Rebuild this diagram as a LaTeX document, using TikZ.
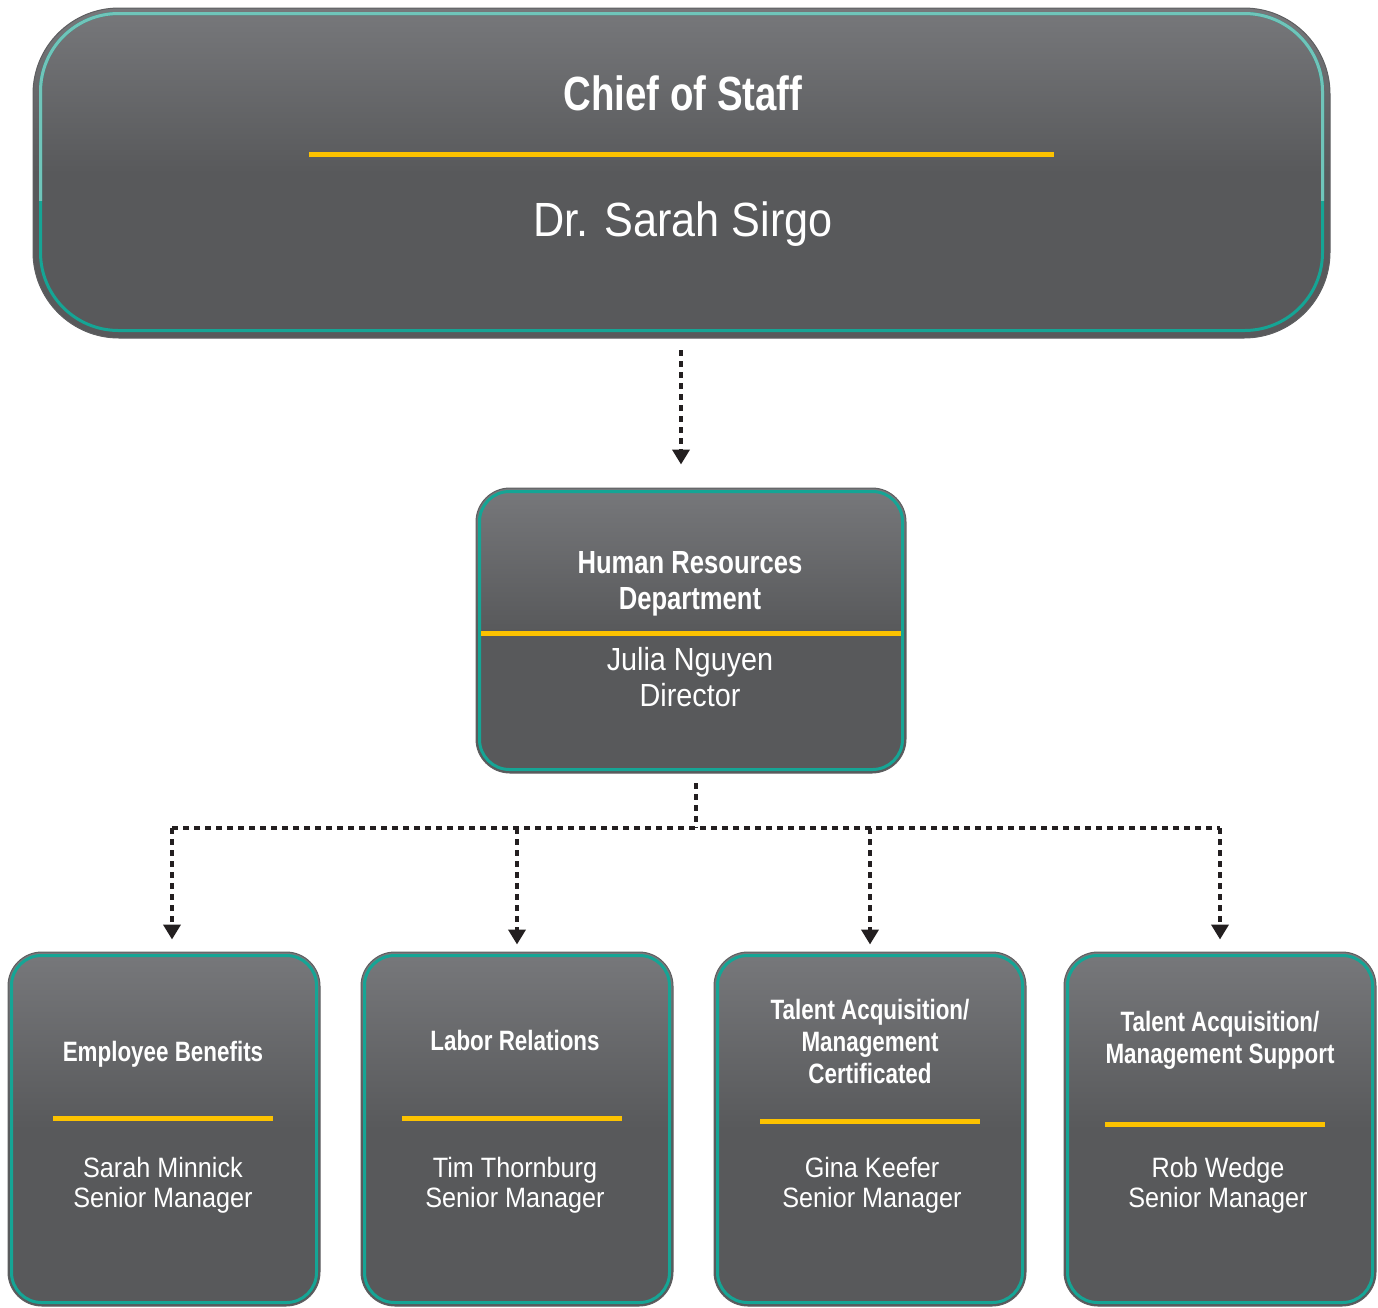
\documentclass[tikz,border=0pt]{standalone}
\usepackage{fontspec}
\setmainfont{Liberation Sans}
\newfontfamily\headfont[FakeStretch=0.8]{Liberation Sans}
\newfontfamily\namefont[FakeStretch=0.9]{Liberation Sans}
\usetikzlibrary{arrows.meta}

\definecolor{cardtop}{HTML}{77787B}
\definecolor{cardbot}{HTML}{58595B}
\definecolor{rimgray}{HTML}{5E5F61}
\definecolor{tealdark}{HTML}{15A595}
\definecolor{teallight}{HTML}{6FC5BA}
\definecolor{rulegold}{HTML}{FCC200}
\definecolor{inkdark}{HTML}{231F20}

\begin{document}
\begin{tikzpicture}[x=1pt,y=-1pt,
  card/.style={draw=rimgray, line width=1pt, inner sep=0pt,
    top color=cardtop, bottom color=cardbot, middle color=cardbot},
  tealline/.style={draw=tealdark, line width=3pt},
  goldrule/.style={draw=rulegold, line width=5pt},
  % multi-line text: the base anchor sits on the baseline of the last line
  headtext/.style={text=white, align=center, inner sep=0pt, anchor=base},
  nametext/.style={text=white, align=center, inner sep=0pt, anchor=base},
  dotline/.style={draw=inkdark, line width=4pt, dash pattern=on 5.5pt off 5.5pt},
  tip/.style={-{Triangle[width=17pt,length=15pt]}}
]
\useasboundingbox (0,0) rectangle (1378,1307);

% ---------- Chief of Staff ----------
\node[card, rounded corners=86pt, minimum width=1297pt, minimum height=330pt] (cos) at (681.5,173) {};
\draw[tealline, rounded corners=78pt] ([shift={(8,6)}]cos.north west) rectangle ([shift={(-8,-8)}]cos.south east);
\begin{scope}
  \clip (0,0) rectangle (1378,200);
  \draw[tealline, draw=teallight, rounded corners=78pt] ([shift={(8,6)}]cos.north west) rectangle ([shift={(-8,-8)}]cos.south east);
\end{scope}
\node[headtext, font=\headfont\bfseries\fontsize{48}{52}\selectfont] (costitle) at (683,110) {Chief of Staff};
\coordinate (cosruleL) at (309,154);
\coordinate (cosruleR) at (1054,154);
\draw[goldrule] (cosruleL) -- (cosruleR);
\node[nametext, font=\namefont\fontsize{48}{52}\selectfont] (cosname) at (683,236) {Dr. Sarah Sirgo};

% ---------- Human Resources ----------
\node[card, rounded corners=34pt, minimum width=430pt, minimum height=285pt] (hr) at (691,630.5) {};
\draw[tealline, rounded corners=30pt] ([shift={(4,4)}]hr.north west) rectangle ([shift={(-4,-4)}]hr.south east);
\coordinate (hrruleL) at (481,633);
\coordinate (hrruleR) at (901,633);
\draw[goldrule] (hrruleL) -- (hrruleR);
\node[headtext, font=\headfont\bfseries\fontsize{32}{36}\selectfont] (hrtitle) at (690,609) {Human Resources\\Department};
\node[nametext, font=\namefont\fontsize{32}{36}\selectfont] (hrname) at (690,706) {Julia Nguyen\\Director};

% ---------- Units ----------
\foreach \nm/\cx in {b1/164, b2/517, b3/870, b4/1220}{
  \node[card, rounded corners=34pt, minimum width=312pt, minimum height=354pt] (\nm) at (\cx,1129) {};
  \draw[tealline, rounded corners=30pt] ([shift={(4,4)}]\nm.north west) rectangle ([shift={(-4,-4)}]\nm.south east);
}
\draw[goldrule] (53,1118) -- (273,1118);
\draw[goldrule] (402,1118) -- (622,1118);
\draw[goldrule] (760,1121) -- (980,1121);
\draw[goldrule] (1105,1124) -- (1325,1124);

\tikzset{unithead/.style={headtext, font=\headfont\bfseries\fontsize{28}{32}\selectfont},
         unitname/.style={nametext, font=\namefont\fontsize{28}{30}\selectfont}}
\node[unithead] (b1title) at (163,1061) {Employee Benefits};
\node[unithead] (b2title) at (515,1050) {Labor Relations};
\node[unithead] (b3title) at (870,1083) {Talent Acquisition/\\Management\\Certificated};
\node[unithead] (b4title) at (1220,1063) {Talent Acquisition/\\Management Support};
\node[unitname] (b1name) at (163,1207) {Sarah Minnick\\Senior Manager};
\node[unitname] (b2name) at (515,1207) {Tim Thornburg\\Senior Manager};
\node[unitname] (b3name) at (872,1207) {Gina Keefer\\Senior Manager};
\node[unitname] (b4name) at (1218,1207) {Rob Wedge\\Senior Manager};

% ---------- Connectors ----------
\coordinate (cosout) at (681,338);
\draw[dotline, tip, shorten <=12pt, shorten >=23pt] (cosout) -- (cosout |- hr.north);

\coordinate (hrout) at (696,773);
\coordinate (busjoin) at (696,828);
\coordinate (busL) at (172,828);
\coordinate (busR) at (1220,828);
\coordinate (drop2) at (517,828);
\coordinate (drop3) at (870,828);
\draw[dotline, shorten <=10pt] (hrout) -- (busjoin);
\draw[dotline] (busL) -- (busR);
\draw[dotline, tip, shorten >=12pt] (busL) -- (busL |- b1.north);
\draw[dotline, tip, shorten >=7pt] (drop2) -- (drop2 |- b2.north);
\draw[dotline, tip, shorten >=7pt] (drop3) -- (drop3 |- b3.north);
\draw[dotline, tip, shorten >=12pt] (busR) -- (busR |- b4.north);
\end{tikzpicture}
\end{document}
